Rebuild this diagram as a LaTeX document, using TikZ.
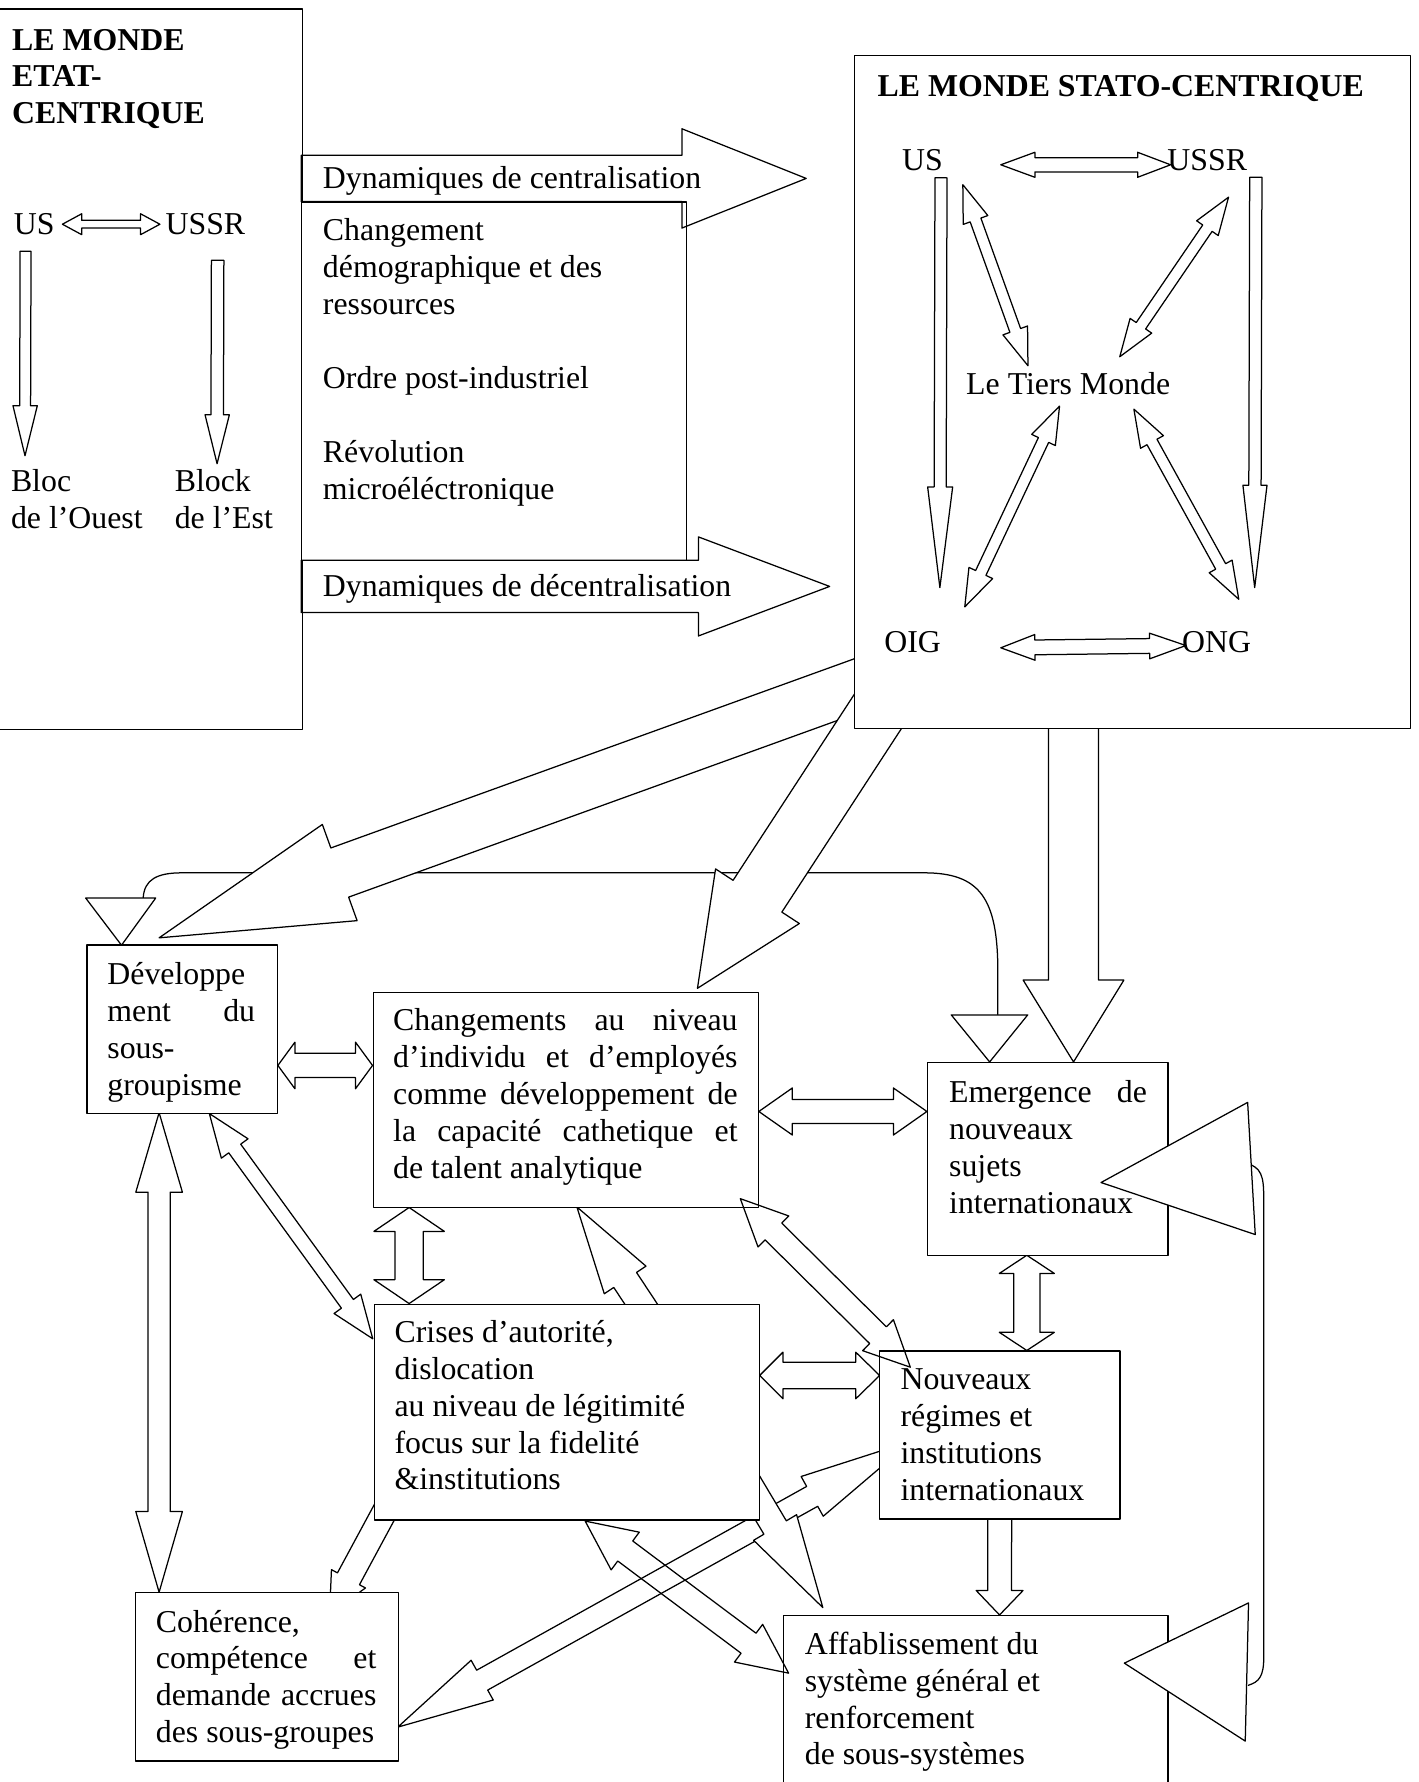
\documentclass[tikz,border=0pt]{standalone}
\usepackage{fontspec}
\setmainfont{Liberation Serif}
\usetikzlibrary{calc}
\newcommand\boxfont{\fontsize{28}{32.5}\selectfont}
\tikzset{
  outline/.style={draw=black, line width=1.1pt, line join=round},
  panel/.style={outline, fill=white, inner sep=0pt, anchor=north west},
  lbl/.style={anchor=base west, inner sep=0pt, font=\boxfont},
  link/.style={draw=black, line width=1.1pt},
  tiphead/.style={outline, fill=white},
}
% single block arrow: [style]{tail}{tip}{half shaft}{half head}{head length}
\newcommand\blkarrow[6][]{%
  \path ($(#3)!#6pt!(#2)$) coordinate (hb);
  \draw[outline,#1] ($(#2)!#4pt!90:(#3)$) -- ($(hb)!#4pt!90:(#3)$) -- ($(hb)!#5pt!90:(#3)$) -- (#3)
    -- ($(hb)!#5pt!-90:(#3)$) -- ($(hb)!#4pt!-90:(#3)$) -- ($(#2)!#4pt!-90:(#3)$) -- cycle;}
% double block arrow: [style]{end 1}{end 2}{half shaft}{half head}{head length 1}{head length 2}
\newcommand\dblarrow[7][]{%
  \path ($(#2)!#6pt!(#3)$) coordinate (hb1) ($(#3)!#7pt!(#2)$) coordinate (hb2);
  \draw[outline,#1] (#2) -- ($(hb1)!#5pt!90:(#3)$) -- ($(hb1)!#4pt!90:(#3)$)
    -- ($(hb2)!#4pt!-90:(#2)$) -- ($(hb2)!#5pt!-90:(#2)$) -- (#3)
    -- ($(hb2)!#5pt!90:(#2)$) -- ($(hb2)!#4pt!90:(#2)$)
    -- ($(hb1)!#4pt!-90:(#3)$) -- ($(hb1)!#5pt!-90:(#3)$) -- cycle;}
\begin{document}
\begin{tikzpicture}[x=1pt,y=-1pt]
\useasboundingbox (0,0) rectangle (1248,1568);
\clip (0,0) rectangle (1248,1568);

% ---- arrow end points ----
\coordinate (usL) at (54.9,197.3);   \coordinate (ussrL) at (140.7,197.3);
\coordinate (t2a) at (22.5,221);     \coordinate (t2b) at (22,401);
\coordinate (t3a) at (191.5,229);    \coordinate (t3b) at (191,408);
\coordinate (t4a) at (265,157);      \coordinate (t4b) at (709.4,157);
\coordinate (t5a) at (265,516);      \coordinate (t5b) at (730,516);
\coordinate (s1a) at (880.6,145);    \coordinate (s1b) at (1030,145);
\coordinate (s2a) at (880.6,570);    \coordinate (s2b) at (1043.5,568);
\coordinate (s3a) at (828,156.5);    \coordinate (s3b) at (827,517);
\coordinate (s4a) at (1105,156);     \coordinate (s4b) at (1104,517);
\coordinate (s5a) at (847.2,162.5);  \coordinate (s5b) at (904.5,321.8);
\coordinate (s6a) at (1081,173.5);   \coordinate (s6b) at (985.3,313.9);
\coordinate (s7a) at (932.3,357.3);  \coordinate (s7b) at (848.9,534);
\coordinate (s8a) at (997.7,360);    \coordinate (s8b) at (1090,527.3);
\coordinate (aT) at (788,591);       \coordinate (aH) at (140,825.2);
\coordinate (bT) at (775.7,621);     \coordinate (bH) at (613.7,869.6);
\coordinate (cT) at (944.6,600);     \coordinate (cH) at (944.6,934.4);
\coordinate (l1a) at (244.5,937.5);  \coordinate (l1b) at (327.8,937.5);
\coordinate (l2a) at (140,979);      \coordinate (l2b) at (140,1401);
\coordinate (l3a) at (184.2,979.8);  \coordinate (l3b) at (328,1178);
\coordinate (l4a) at (360,1062.5);   \coordinate (l4b) at (360,1147);
\coordinate (l5a) at (667.7,978);    \coordinate (l5b) at (815.6,978);
\coordinate (l6a) at (903.5,1104.5); \coordinate (l6b) at (903.5,1188.3);
\coordinate (l7a) at (668.4,1210.3); \coordinate (l7b) at (774,1210.3);
\coordinate (l8a) at (651.4,1054.7); \coordinate (l8b) at (801,1203);
\coordinate (l9a) at (572,1159.4);   \coordinate (l9b) at (507.6,1062);
\coordinate (l10a) at (879.7,1320);  \coordinate (l10b) at (879.5,1421);
\coordinate (l11a) at (514.9,1338.4);\coordinate (l11b) at (693.9,1472.2);
\coordinate (l12a) at (350,1519.7);  \coordinate (l12b) at (802,1268);
\coordinate (l13a) at (345,1318);    \coordinate (l13b) at (290,1420);
\coordinate (l14a) at (651,1292);    \coordinate (l14b) at (724,1414.5);
\coordinate (m5a) at (126,790);      \coordinate (m5b) at (160,768);
\coordinate (m5c) at (813,768);      \coordinate (m5d) at (878,855);
\coordinate (m5e) at (878,893);
\coordinate (d1) at (75.4,790.2);    \coordinate (d2) at (137,790.2);   \coordinate (d3) at (106.9,831.7);
\coordinate (e1) at (837,893);       \coordinate (e2) at (904.3,893);   \coordinate (e3) at (870.8,934.4);
\coordinate (f1) at (1097.8,970);    \coordinate (f2) at (968.8,1040.5);\coordinate (f3) at (1104.5,1086.3);
\coordinate (g1) at (1098.6,1410.4); \coordinate (g2) at (989.3,1463.4);\coordinate (g3) at (1095.7,1532);
\coordinate (lp1) at (1101,1025);    \coordinate (lp2) at (1098,1483);

% ---- connector between the two small heads ----
\draw[link] (m5a) .. controls (127,774) and (138,768) .. (m5b) -- (m5c)
  .. controls (862,768) and (878,790) .. (m5d) -- (m5e);

% ---- arrows leaving the stato-centric world ----
\blkarrow[fill=white]{aT}{aH}{23}{45}{169}
\blkarrow[fill=white]{bT}{bH}{25.6}{44}{96.7}
\blkarrow[fill=white]{cT}{cH}{22}{44.3}{72}

% ---- arrows between the lower boxes ----
\dblarrow{l12a}{l12b}{10}{20}{85}{100}
\blkarrow[fill=white]{l14a}{l14b}{11.5}{22}{82}
\blkarrow{l9a}{l9b}{12}{22}{77}
\blkarrow{l13a}{l13b}{11}{17}{35}
\blkarrow{l10a}{l10b}{10.5}{20.6}{21.5}
\dblarrow{l1a}{l1b}{10.7}{20.5}{15}{15}
\dblarrow{l2a}{l2b}{9.7}{20.5}{70}{71}
\dblarrow{l3a}{l3b}{6.5}{14.5}{38}{38}
\dblarrow{l4a}{l4b}{12.5}{31}{21}{21}
\dblarrow{l5a}{l5b}{10.5}{20.7}{29.5}{29.5}
\dblarrow{l6a}{l6b}{11.5}{24.2}{16}{16}
\dblarrow{l7a}{l7b}{11.7}{20.5}{20.5}{21}

% ---- upper panels (the state-centric panel runs off the left margin) ----
\node[panel, draw=none, minimum width=265pt, minimum height=633pt] (etat) at (0,8) {};
\draw[outline] (etat.north west) -- (etat.north east) -- (etat.south east) -- (etat.south west);
\node[panel, minimum width=338.5pt, minimum height=315.3pt] (facteursbox) at (265,177.2) {};
\node[panel, minimum width=489.5pt, minimum height=592.5pt] (stato) at (751,48) {};

\blkarrow{t4a}{t4b}{20.4}{43.7}{109.4}
\blkarrow{t5a}{t5b}{23}{43.6}{115.5}
\dblarrow{usL}{ussrL}{3.4}{9.2}{17}{17}
\blkarrow{t2a}{t2b}{4.8}{10.7}{44}
\blkarrow{t3a}{t3b}{5.5}{10.7}{43}

\dblarrow{s1a}{s1b}{6.3}{11}{30}{29}
\dblarrow{s2a}{s2b}{6.5}{11.3}{30}{32}
\blkarrow{s3a}{s3b}{5.3}{11}{88.5}
\blkarrow{s4a}{s4b}{5.4}{10.6}{90}
\dblarrow{s5a}{s5b}{5}{11.5}{33}{33}
\dblarrow{s6a}{s6b}{5}{11.5}{33}{33}
\dblarrow{s7a}{s7b}{5}{11.5}{33}{33}
\dblarrow{s8a}{s8b}{5}{11.5}{33}{33}

% ---- lower panels ----
\node[panel, minimum width=167.5pt, minimum height=148pt] (dev) at (76,831) {};
\node[panel, minimum width=339pt, minimum height=189pt] (chg) at (328,873) {};
\node[panel, minimum width=211.6pt, minimum height=169.6pt] (emg) at (815.6,934.4) {};
\node[panel, minimum width=338.5pt, minimum height=190pt] (cri) at (329,1147) {};
\node[panel, minimum width=211.5pt, minimum height=147.7pt] (nou) at (773.5,1188.3) {};
\node[panel, minimum width=231.5pt, minimum height=148pt] (coh) at (118.5,1401) {};
\node[panel, minimum width=338.5pt, minimum height=175pt] (aff) at (688.7,1421) {};

% arrows lying over the panels
\dblarrow{l8a}{l8b}{10.4}{19.2}{41}{40}
\dblarrow{l11a}{l11b}{11}{20.7}{44}{44}

% ---- feedback loop and the small heads ----
\draw[link] (lp1) .. controls (1112,1030) and (1112,1040) .. (1112,1060) -- (1112,1458)
  .. controls (1112,1475) and (1108,1480) .. (lp2);
\draw[tiphead] (f1) -- (f2) -- (f3) -- cycle;
\draw[tiphead] (g1) -- (g2) -- (g3) -- cycle;
\draw[tiphead] (d1) -- (d2) -- (d3) -- cycle;
\draw[tiphead] (e1) -- (e2) -- (e3) -- cycle;

% ---- texts ----
\node[lbl] (etattitle) at (10.5,44) {\parbox[t]{240pt}{\raggedright\bfseries LE MONDE\\ETAT-\\CENTRIQUE}};
\node[lbl] (usA) at (12,206) {US};
\node[lbl] (ussrA) at (145.5,206) {USSR};
\node[lbl] (ouest) at (9.5,432.4) {\parbox[t]{130pt}{\raggedright Bloc\\de l’Ouest}};
\node[lbl] (est) at (153.6,432.4) {\parbox[t]{110pt}{\raggedright Block\\de l’Est}};
\node[lbl] (dynA) at (284,166) {Dynamiques de centralisation};
\node[lbl] (facteurs) at (284,212) {\parbox[t]{310pt}{\raggedright Changement\\démographique et des\\ressources\\[32.5pt]Ordre post-industriel\\[32.5pt]Révolution\\microéléctronique}};
\node[lbl] (dynB) at (284,525) {Dynamiques de décentralisation};

\node[lbl] (statotitle) at (772,84.5) {\bfseries LE MONDE STATO-CENTRIQUE};
\node[lbl] (usB) at (793.5,149.8) {US};
\node[lbl] (ussrB) at (1027,149.8) {USSR};
\node[lbl] (tiers) at (850,347) {Le Tiers Monde};
\node[lbl] (oig) at (778,574.5) {OIG};
\node[lbl] (ong) at (1040,574.5) {ONG};

\node[lbl] (devtxt) at (94.3,866) {\parbox[t]{130pt}{\raggedright Développe\\\makebox[130pt][s]{ment du}\\sous-\\groupisme}};
\node[lbl] (chgtxt) at (345.8,907) {\parbox[t]{303pt}{\raggedright\makebox[303pt][s]{Changements au niveau}\\\makebox[303pt][s]{d’individu et d’employés}\\\makebox[303pt][s]{comme développement de}\\\makebox[303pt][s]{la capacité cathetique et}\\de talent analytique}};
\node[lbl] (emgtxt) at (835,970) {\parbox[t]{174pt}{\raggedright\makebox[174pt][s]{Emergence de}\\nouveaux\\sujets\\internationaux}};
\node[lbl] (critxt) at (347,1181) {\parbox[t]{320pt}{\raggedright Crises d’autorité,\\dislocation\\au niveau de légitimité\\focus sur la fidelité\\\&institutions}};
\node[lbl] (noutxt) at (792.2,1222.6) {\parbox[t]{190pt}{\raggedright Nouveaux\\régimes et\\institutions\\internationaux}};
\node[lbl] (cohtxt) at (137,1436) {\parbox[t]{194pt}{\raggedright Cohérence,\\\makebox[194pt][s]{compétence et}\\\makebox[194pt][s]{demande accrues}\\des sous-groupes}};
\node[lbl] (afftxt) at (708,1455.5) {\parbox[t]{310pt}{\raggedright Affablissement du\\système général et\\renforcement\\de sous-systèmes}};
\end{tikzpicture}
\end{document}
